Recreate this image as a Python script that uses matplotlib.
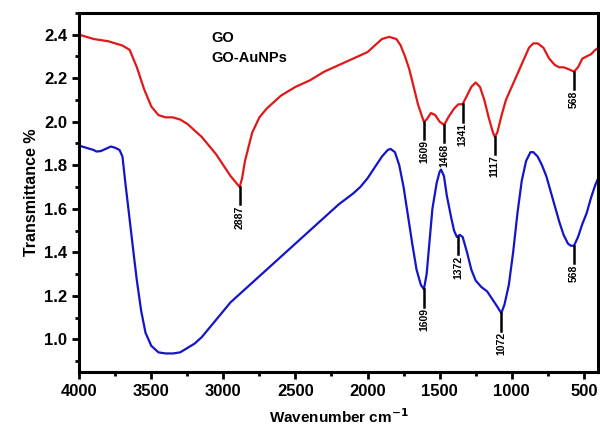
import matplotlib.pyplot as plt
from matplotlib.ticker import MultipleLocator

# GO (red) spectrum
go_wn = [4000, 3900, 3800, 3700, 3650, 3600, 3550, 3500, 3450, 3400, 3350, 3300,
         3250, 3200, 3150, 3100, 3050, 3000, 2950, 2900, 2887, 2870, 2850, 2800,
         2750, 2700, 2600, 2500, 2400, 2300, 2200, 2100, 2000, 1950, 1900, 1850,
         1800, 1770, 1740, 1710, 1680, 1650, 1620, 1609, 1590, 1560, 1530, 1500,
         1468, 1440, 1400, 1370, 1341, 1310, 1280, 1250, 1220, 1190, 1160, 1130,
         1117, 1100, 1070, 1040, 1000, 960, 920, 880, 850, 820, 780, 740, 700,
         670, 640, 600, 568, 540, 510, 480, 450, 420, 400]
go_t = [2.40, 2.38, 2.37, 2.35, 2.33, 2.25, 2.15, 2.07, 2.03, 2.02, 2.02, 2.01,
        1.99, 1.96, 1.93, 1.89, 1.85, 1.80, 1.75, 1.71, 1.70, 1.74, 1.82, 1.95,
        2.02, 2.06, 2.12, 2.16, 2.19, 2.23, 2.26, 2.29, 2.32, 2.35, 2.38, 2.39,
        2.38, 2.35, 2.30, 2.24, 2.16, 2.08, 2.02, 2.00, 2.01, 2.04, 2.03, 2.00,
        1.985, 2.02, 2.06, 2.08, 2.08, 2.12, 2.16, 2.18, 2.16, 2.10, 2.02, 1.95,
        1.93, 1.95, 2.03, 2.10, 2.16, 2.22, 2.28, 2.34, 2.36, 2.36, 2.34, 2.29,
        2.26, 2.25, 2.25, 2.24, 2.23, 2.25, 2.29, 2.30, 2.31, 2.33, 2.34]

# GO-AuNPs (blue) spectrum
au_wn = [4000, 3950, 3900, 3880, 3850, 3800, 3780, 3750, 3720, 3700, 3680, 3650,
         3620, 3600, 3570, 3540, 3500, 3450, 3400, 3350, 3300, 3250, 3200, 3150,
         3100, 3050, 3000, 2950, 2900, 2800, 2700, 2600, 2500, 2400, 2300, 2200,
         2100, 2050, 2000, 1950, 1900, 1860, 1840, 1810, 1780, 1750, 1720, 1690,
         1660, 1630, 1609, 1590, 1570, 1550, 1520, 1500, 1490, 1470, 1450, 1420,
         1400, 1380, 1360, 1340, 1310, 1280, 1250, 1210, 1170, 1130, 1100, 1072,
         1050, 1020, 990, 960, 930, 900, 870, 850, 820, 790, 760, 730, 700, 670,
         640, 610, 590, 568, 540, 510, 480, 450, 420, 400]
au_t = [1.89, 1.88, 1.87, 1.863, 1.865, 1.88, 1.886, 1.88, 1.87, 1.84, 1.72, 1.55,
        1.38, 1.27, 1.13, 1.03, 0.97, 0.94, 0.935, 0.935, 0.94, 0.96, 0.98, 1.01,
        1.05, 1.09, 1.13, 1.17, 1.20, 1.26, 1.32, 1.38, 1.44, 1.50, 1.56, 1.62,
        1.67, 1.70, 1.74, 1.79, 1.84, 1.87, 1.875, 1.86, 1.80, 1.70, 1.57, 1.44,
        1.32, 1.25, 1.23, 1.30, 1.45, 1.60, 1.72, 1.77, 1.78, 1.75, 1.66, 1.56,
        1.50, 1.47, 1.48, 1.47, 1.40, 1.32, 1.27, 1.24, 1.22, 1.18, 1.15, 1.12,
        1.16, 1.25, 1.40, 1.58, 1.73, 1.82, 1.86, 1.86, 1.84, 1.80, 1.75, 1.68,
        1.61, 1.54, 1.48, 1.44, 1.43, 1.43, 1.47, 1.53, 1.58, 1.65, 1.71, 1.74]

# labelled bands: (wavenumber, transmittance at marker)
go_peaks = [(2887, 1.70), (1609, 2.00), (1468, 1.985), (1341, 2.08), (1117, 1.93), (568, 2.23)]
au_peaks = [(1609, 1.23), (1372, 1.47), (1072, 1.12), (568, 1.43)]

plt.rcParams['font.family'] = ['Liberation Sans', 'DejaVu Sans']
plt.rcParams['font.weight'] = 'bold'

fig = plt.figure(figsize=(6, 4.3), dpi=100)
ax = fig.add_axes([0.132, 0.135, 0.865, 0.835])

ax.plot(go_wn, go_t, color='#e01818', lw=1.6)
ax.plot(au_wn, au_t, color='#1414c8', lw=1.6)

for peaks in (go_peaks, au_peaks):
    for wn, t in peaks:
        ax.plot([wn, wn], [t, t - 0.08], color='black', lw=1.8)
        ax.text(wn, t - 0.085, str(wn), rotation=90, ha='center', va='top',
                fontsize=7.5, fontweight='bold')

ax.text(3080, 2.365, 'GO', fontsize=10.5, fontweight='bold')
ax.text(3080, 2.275, 'GO-AuNPs', fontsize=10.5, fontweight='bold')

ax.set_xlim(4000, 400)
ax.set_ylim(0.85, 2.5)
ax.xaxis.set_major_locator(MultipleLocator(500))
ax.xaxis.set_minor_locator(MultipleLocator(250))
ax.yaxis.set_major_locator(MultipleLocator(0.2))
ax.yaxis.set_minor_locator(MultipleLocator(0.1))
ax.set_yticks([1.0, 1.2, 1.4, 1.6, 1.8, 2.0, 2.2, 2.4])

ax.tick_params(which='major', direction='out', length=5, width=2, labelsize=12)
ax.tick_params(which='minor', direction='out', length=3, width=2)
for lab in ax.get_xticklabels() + ax.get_yticklabels():
    lab.set_fontweight('bold')
for sp in ax.spines.values():
    sp.set_linewidth(2.2)

ax.set_xlabel('Wavenumber cm$^{\\mathbf{-1}}$', fontsize=11, fontweight='bold', labelpad=6)
ax.set_ylabel('Transmittance %', fontsize=11.5, fontweight='bold', labelpad=4)

fig.savefig('out.png', dpi=100)
